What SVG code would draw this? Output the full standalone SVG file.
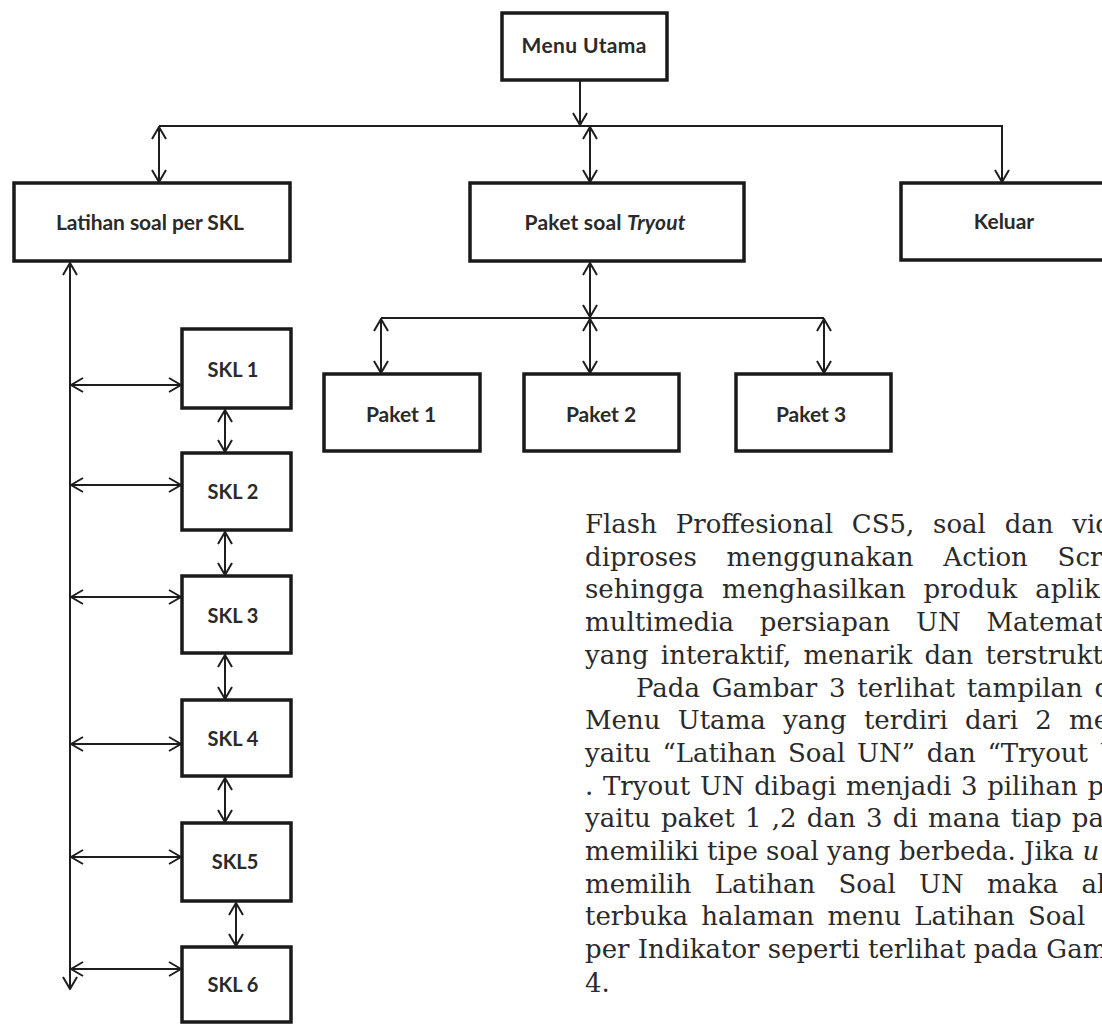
<svg xmlns="http://www.w3.org/2000/svg" width="1102" height="1024" viewBox="0 0 1102 1024">
<defs>
<style>
.box{fill:#fff;stroke:#1a1a1a;stroke-width:3.5}
.lbl{font-family:Lato,"Liberation Sans",sans-serif;font-size:21px;font-weight:bold;fill:#2a2a2a;text-anchor:middle}
.skl{font-size:20px}
.ln{fill:none;stroke:#1e1e1e;stroke-width:2}
.arr{marker-end:url(#ah)}
.dbl{marker-start:url(#ah);marker-end:url(#ah)}
.para{font-family:"DejaVu Serif","Liberation Serif",serif;font-size:26px;fill:#2a2a2a}
</style>
<marker id="ah" viewBox="0 0 14 16" refX="13" refY="8" markerWidth="14" markerHeight="16" orient="auto-start-reverse" markerUnits="userSpaceOnUse">
<path d="M1,1 L13,8 L1,15" fill="none" stroke="#1e1e1e" stroke-width="2"/>
</marker>
</defs>
<rect width="1102" height="1024" fill="#fff"/>

<g id="connectors">
<path class="ln arr" d="M580,81 V125"/>
<path class="ln arr" d="M159,126 H1002 V182"/>
<path class="ln dbl" d="M159,127 V182"/>
<path class="ln dbl" d="M590,127 V182"/>
<path class="ln dbl" d="M590,263 V317"/>
<path class="ln" d="M381,318 H824"/>
<path class="ln dbl" d="M381,319 V373"/>
<path class="ln dbl" d="M590,319 V373"/>
<path class="ln dbl" d="M824,319 V373"/>
<path class="ln dbl" d="M70,263 V989"/>
<path class="ln dbl" d="M71,385 H181"/>
<path class="ln dbl" d="M71,485 H181"/>
<path class="ln dbl" d="M71,597 H181"/>
<path class="ln dbl" d="M71,744 H181"/>
<path class="ln dbl" d="M71,857 H181"/>
<path class="ln dbl" d="M71,969 H181"/>
<path class="ln dbl" d="M225,410 V452"/>
<path class="ln dbl" d="M225,532 V575"/>
<path class="ln dbl" d="M225,655 V699"/>
<path class="ln dbl" d="M225,778 V822"/>
<path class="ln dbl" d="M236,903 V946"/>
</g>

<g id="menu-utama"><rect class="box" x="502" y="13" width="165" height="67"/><text class="lbl" x="584" y="53" textLength="125">Menu Utama</text></g>
<g id="latihan"><rect class="box" x="14" y="183" width="276" height="78"/><text class="lbl" x="150" y="230" textLength="188">Latihan soal per SKL</text></g>
<g id="paket-soal"><rect class="box" x="470" y="183" width="274" height="78"/><text class="lbl" x="605" y="230" textLength="161">Paket soal <tspan font-style="italic">Tryout</tspan></text></g>
<g id="keluar"><rect class="box" x="901" y="183" width="215" height="77"/><text class="lbl" x="1004" y="229">Keluar</text></g>

<g id="paket1"><rect class="box" x="324" y="374" width="156" height="77"/><text class="lbl" x="401" y="422">Paket 1</text></g>
<g id="paket2"><rect class="box" x="524" y="374" width="155" height="77"/><text class="lbl" x="601" y="422">Paket 2</text></g>
<g id="paket3"><rect class="box" x="736" y="374" width="155" height="77"/><text class="lbl" x="811" y="422">Paket 3</text></g>

<g id="skl1"><rect class="box" x="182" y="329" width="109" height="79"/><text class="lbl skl" x="233" y="377">SKL 1</text></g>
<g id="skl2"><rect class="box" x="182" y="453" width="109" height="77"/><text class="lbl skl" x="233" y="499">SKL 2</text></g>
<g id="skl3"><rect class="box" x="182" y="576" width="109" height="77"/><text class="lbl skl" x="233" y="623">SKL 3</text></g>
<g id="skl4"><rect class="box" x="182" y="700" width="109" height="76"/><text class="lbl skl" x="233" y="746">SKL 4</text></g>
<g id="skl5"><rect class="box" x="182" y="823" width="109" height="78"/><text class="lbl skl" x="235" y="869">SKL5</text></g>
<g id="skl6"><rect class="box" x="182" y="947" width="109" height="75"/><text class="lbl skl" x="233" y="992">SKL 6</text></g>

<g id="paragraph" class="para">
<text x="585" y="533" word-spacing="10.5">Flash Proffesional CS5, soal dan vid</text>
<text x="585" y="565.7" word-spacing="21.5">diproses menggunakan Action Scr</text>
<text x="585" y="598.4" word-spacing="9.5">sehingga menghasilkan produk aplik</text>
<text x="585" y="631.1" word-spacing="17.5">multimedia persiapan UN Matemat</text>
<text x="585" y="663.8" word-spacing="4">yang interaktif, menarik dan terstrukt</text>
<text x="636" y="696.5" word-spacing="3.5">Pada Gambar 3 terlihat tampilan d</text>
<text x="585" y="729.2" word-spacing="9">Menu Utama yang terdiri dari 2 me</text>
<text x="585" y="761.9" word-spacing="3.5">yaitu “Latihan Soal UN” dan “Tryout U</text>
<text x="585" y="794.6" word-spacing="1.4">. Tryout UN dibagi menjadi 3 pilihan pa</text>
<text x="585" y="827.3" word-spacing="2">yaitu paket 1 ,2 dan 3 di mana tiap pa</text>
<text x="585" y="860">memiliki tipe soal yang berbeda. Jika <tspan font-style="italic">u</tspan></text>
<text x="585" y="892.7" word-spacing="15">memilih Latihan Soal UN maka ak</text>
<text x="585" y="925.4" word-spacing="5">terbuka halaman menu Latihan Soal</text>
<text x="585" y="958.1">per Indikator seperti terlihat pada Gam</text>
<text x="585" y="992">4.</text>
</g>
</svg>
